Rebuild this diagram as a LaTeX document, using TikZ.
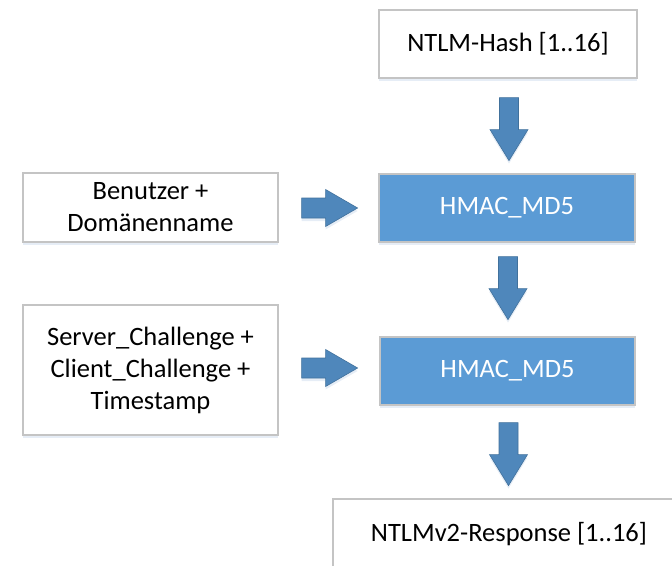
\documentclass[tikz,border=0pt]{standalone}
\usepackage{fontspec}
\setmainfont{Carlito}
\usetikzlibrary{calc,shadows}
\definecolor{boxline}{HTML}{C4C4C4}
\definecolor{hmacfill}{HTML}{5B9BD5}
\definecolor{arrfill}{HTML}{4F87BB}
\definecolor{arrline}{HTML}{41719C}
\definecolor{shadowc}{HTML}{9DB9DA}
\tikzset{
  softshadow/.style={drop shadow={shadow xshift=0pt,shadow yshift=-3pt,fill=shadowc,opacity=0.25}},
  plainbox/.style={draw=boxline,line width=1.2pt,fill=white,align=center,inner sep=0pt,
     font=\fontsize{26.5}{32}\selectfont,text=black,softshadow},
  hmacbox/.style={plainbox,fill=hmacfill,text=white},
  blockarrow/.style={fill=arrfill,draw=arrline,line width=0.6pt,softshadow}
}
% down block arrow: #1 = top centre coordinate
\newcommand{\downblock}[1]{%
  \draw[blockarrow] ($(#1)+(-9.5,0)$) -- ($(#1)+(9.5,0)$) -- ($(#1)+(9.5,32)$) -- ($(#1)+(19,32)$)
     -- ($(#1)+(0,63)$) -- ($(#1)+(-19,32)$) -- ($(#1)+(-9.5,32)$) -- cycle;}
% right block arrow: #1 = left centre coordinate
\newcommand{\rightblock}[1]{%
  \draw[blockarrow] ($(#1)+(0,-10)$) -- ($(#1)+(24,-10)$) -- ($(#1)+(24,-18.5)$) -- ($(#1)+(56,0)$)
     -- ($(#1)+(24,18.5)$) -- ($(#1)+(24,10)$) -- ($(#1)+(0,10)$) -- cycle;}
\begin{document}
\begin{tikzpicture}[x=1pt,y=-1pt]
\useasboundingbox (0,0) rectangle (672,565);
\node[plainbox,minimum width=258pt,minimum height=68pt] (hash) at (508,44) {NTLM-Hash [1..16]};
\node[hmacbox,minimum width=256pt,minimum height=68pt] (hmac1) at (507,208) {HMAC\_MD5};
\node[plainbox,minimum width=255pt,minimum height=69pt] (user) at (150.5,207.5) {Benutzer +\\Domänenname};
\node[hmacbox,minimum width=255pt,minimum height=68pt] (hmac2) at (507.5,371) {HMAC\_MD5};
\node[plainbox,minimum width=255pt,minimum height=130pt] (server) at (150.5,370) {Server\_Challenge +\\Client\_Challenge +\\Timestamp};
\node[plainbox,minimum width=352pt,minimum height=70pt] (resp) at (509,534) {NTLMv2-Response [1..16]};
\coordinate (a1) at ($(hash.south)+(1,19)$);
\coordinate (a2) at ($(hmac1.south)+(1,14)$);
\coordinate (a3) at ($(hmac2.south)+(1,17)$);
\coordinate (r1) at ($(user.east)+(23,0.5)$);
\coordinate (r2) at ($(server.east)+(23,-2)$);
\downblock{a1}
\downblock{a2}
\downblock{a3}
\rightblock{r1}
\rightblock{r2}
\end{tikzpicture}
\end{document}
